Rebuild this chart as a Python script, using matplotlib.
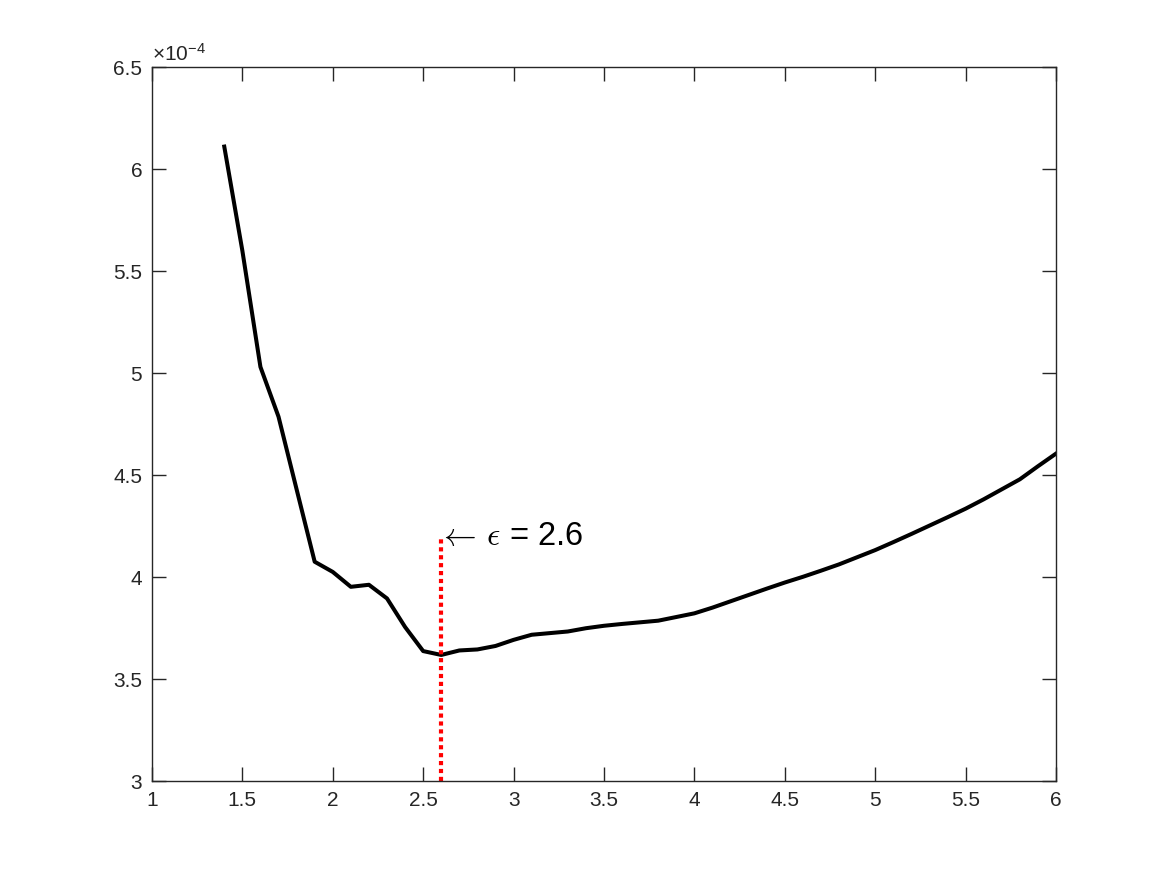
import matplotlib
matplotlib.use("Agg")
import matplotlib.pyplot as plt
from matplotlib.ticker import FuncFormatter

# epsilon values and error (units of 1e-4)
eps = [1.4, 1.5, 1.6, 1.7, 1.8, 1.9, 2.0, 2.1, 2.2, 2.3,
       2.4, 2.5, 2.6, 2.7, 2.8, 2.9, 3.0, 3.1, 3.2, 3.3,
       3.4, 3.5, 3.6, 3.7, 3.8, 3.9, 4.0, 4.1, 4.2, 4.3,
       4.4, 4.5, 4.6, 4.7, 4.8, 4.9, 5.0, 5.1, 5.2, 5.3,
       5.4, 5.5, 5.6, 5.7, 5.8, 5.9, 6.0]
err = [6.11, 5.60, 5.03, 4.786, 4.43, 4.075, 4.025, 3.952, 3.962, 3.895,
       3.755, 3.637, 3.618, 3.640, 3.645, 3.662, 3.692, 3.717, 3.725, 3.733,
       3.749, 3.761, 3.770, 3.778, 3.786, 3.804, 3.822, 3.850, 3.881, 3.912,
       3.943, 3.973, 4.001, 4.031, 4.062, 4.097, 4.132, 4.171, 4.211, 4.252,
       4.293, 4.335, 4.381, 4.430, 4.479, 4.543, 4.605]

best_eps = 2.6
marker_top = 4.2

plt.rcParams["font.family"] = ["Liberation Sans", "DejaVu Sans"]
plt.rcParams["mathtext.fontset"] = "cm"
axis_color = "#262626"

fig = plt.figure(figsize=(11.67, 8.75), dpi=100)
ax = fig.add_axes([0.1302, 0.1074, 0.7747, 0.816])

ax.plot(eps, err, color="black", linewidth=2.9)
ax.plot([best_eps, best_eps], [3, marker_top], color="red", linewidth=3,
        linestyle=(0, (1, 0.9)), dash_capstyle="butt")
ax.text(best_eps - 0.02, marker_top, r"$\leftarrow\,\epsilon$ = 2.6", fontsize=23.5,
        ha="left", va="center", color="black")

ax.set_xlim(1, 6)
ax.set_ylim(3, 6.5)
ax.set_xticks([1, 1.5, 2, 2.5, 3, 3.5, 4, 4.5, 5, 5.5, 6])
ax.set_yticks([3, 3.5, 4, 4.5, 5, 5.5, 6, 6.5])
ax.xaxis.set_major_formatter(FuncFormatter(lambda v, p: "%g" % v))
ax.yaxis.set_major_formatter(FuncFormatter(lambda v, p: "%g" % v))

ax.tick_params(direction="in", length=10, width=1, colors=axis_color,
               labelsize=15, top=True, right=True, pad=7)
for s in ax.spines.values():
    s.set_color(axis_color)
    s.set_linewidth(1)

ax.text(0.0, 1.003, r"$\mathregular{\times10^{-4}}$", transform=ax.transAxes,
        fontsize=15, color=axis_color, ha="left", va="bottom")

fig.savefig("out.png", dpi=100, facecolor="white")
